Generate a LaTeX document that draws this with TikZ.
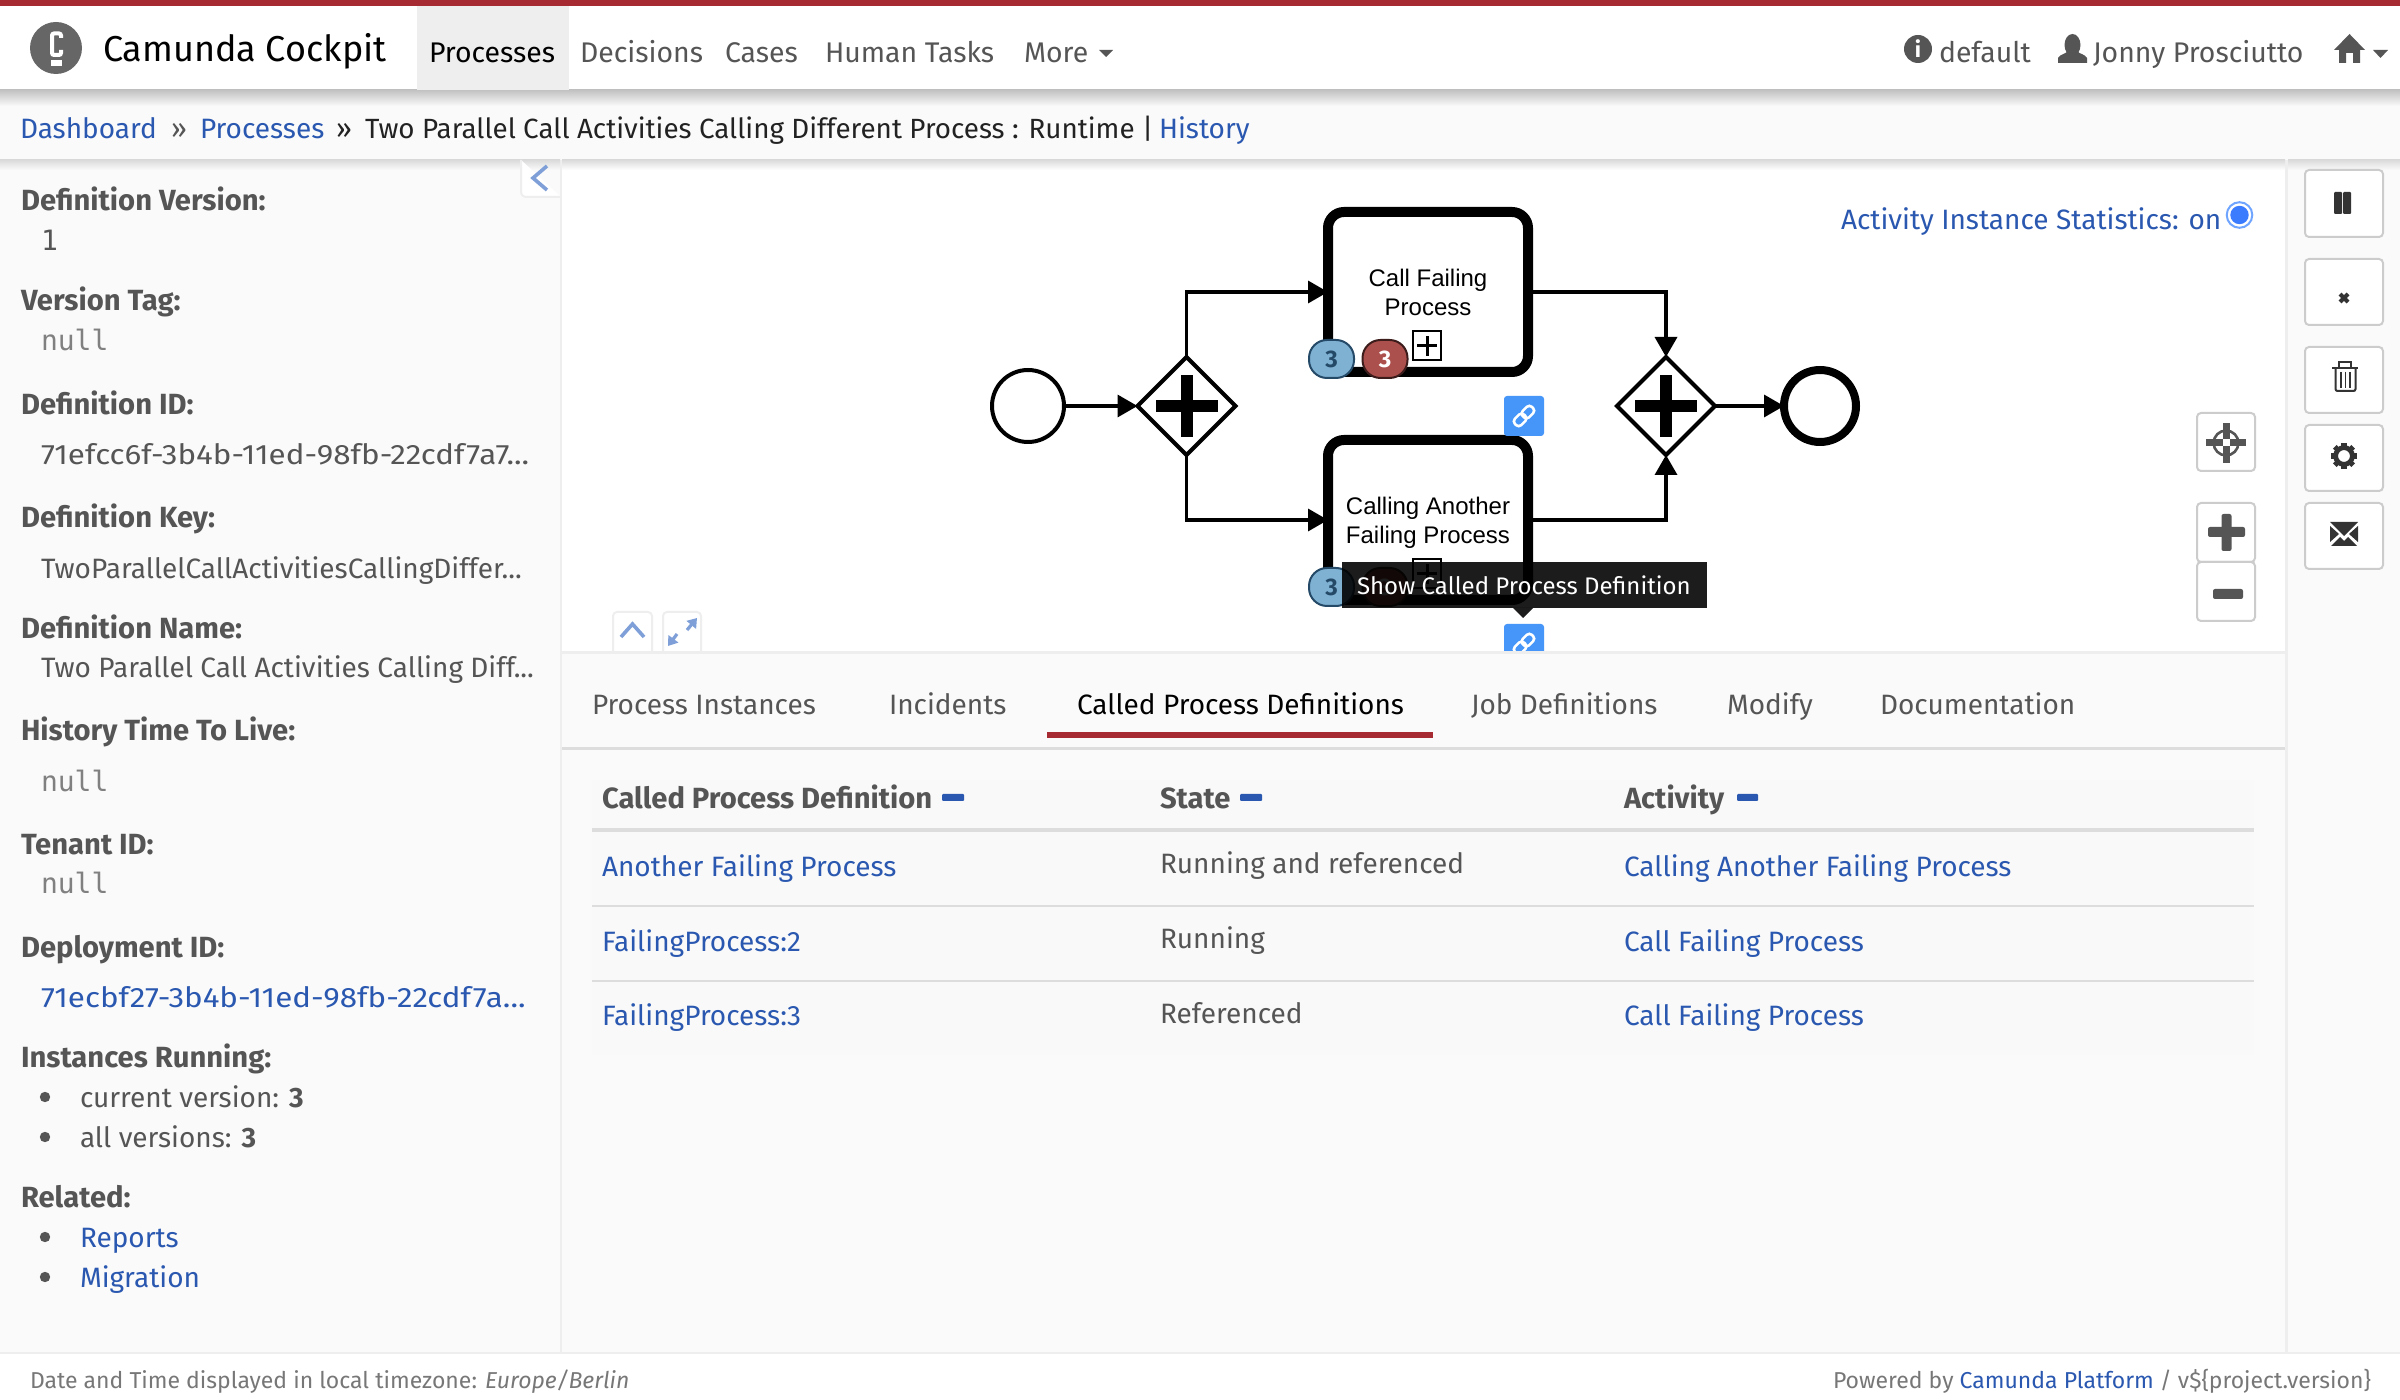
\documentclass[tikz,border=0pt]{standalone}
\usepackage{fontspec}
\setmainfont{Fira Sans}
\setmonofont{DejaVu Sans Mono}
\newfontfamily\arialf{Liberation Sans}
\newfontfamily\widef[FakeStretch=1.12]{Fira Sans}
\usetikzlibrary{arrows.meta,shapes.geometric,calc}
\definecolor{cred}{HTML}{A62A31}
\definecolor{cblue}{HTML}{2A58B0}
\definecolor{cpale}{HTML}{FAFAFA}
\definecolor{cedge}{HTML}{EEEEEE}
\definecolor{cgrey}{HTML}{555555}
\definecolor{cdark}{HTML}{222222}
\definecolor{cbtn}{HTML}{CCCCCC}
\definecolor{cicon}{HTML}{333333}
\definecolor{cchev}{HTML}{7F9FD8}
\definecolor{clink}{HTML}{4596F8}
\definecolor{cline}{HTML}{DDDDDD}
\definecolor{clogo}{HTML}{666666}
\definecolor{bdark}{HTML}{254A68}
\definecolor{bfill}{HTML}{7FB1D3}
\definecolor{rdark}{HTML}{3D1C1C}
\definecolor{rfill}{HTML}{AC504D}
\definecolor{radring}{HTML}{6FA5FF}
\definecolor{raddot}{HTML}{3B7CFF}
\definecolor{footc}{HTML}{777777}
\definecolor{tablebg}{HTML}{F9F9F9}
\newcommand{\szb}{\fontsize{14}{16}\selectfont}
\newcommand{\szl}{\fontsize{14.6}{17}\selectfont}
\newcommand{\szn}{\fontsize{14.2}{17}\selectfont}
\newcommand{\szf}{\fontsize{11.5}{14}\selectfont}
\tikzset{
 x=0.5pt,y=-0.5pt,
 txt/.style={inner sep=0pt,outer sep=0pt,anchor=base west,text=cgrey,font=\szb,yshift=-0.6pt},
 rtxt/.style={txt,anchor=base east},
 lnk/.style={txt,text=cblue},
 lab/.style={txt,font=\szl\bfseries},
 mono/.style={txt,font=\szb\ttfamily},
 nav/.style={txt,font=\szn},
 btn/.style={draw=cbtn,line width=1pt,fill=white,rounded corners=2pt},
 flow/.style={draw=black,line width=1.75pt,-{Triangle[length=10pt,width=11pt]}},
 tasknode/.style={draw=black,line width=5pt,rounded corners=8pt,fill=white,minimum width=100pt,minimum height=80pt,inner sep=0pt,outer sep=0pt},
 gatenode/.style={diamond,aspect=1,draw=black,line width=2pt,fill=white,minimum width=49pt,minimum height=49pt,inner sep=0pt,outer sep=0pt},
 badge/.style={rounded corners=9pt,minimum width=22.5pt,minimum height=19pt,inner sep=0pt,line width=1pt,font=\fontsize{12}{14}\selectfont\bfseries},
 markbox/.style={draw=black,line width=1pt,fill=white,minimum width=14pt,minimum height=14.5pt,inner sep=0pt},
 chev/.style={draw=cchev,line width=1.8pt},
 linkbtn/.style={fill=clink,rounded corners=1.5pt},
}
\begin{document}
\begin{tikzpicture}
\useasboundingbox (0,0) rectangle (2400,1400);
% page bands
\fill[white] (0,0) rectangle (2400,1400);
\fill[cpale] (0,90) rectangle (2400,1353);
\fill[white] (562,160) rectangle (2286,652);
\fill[cedge] (0,1352) rectangle (2400,1354);
\fill[cedge] (560,160) rectangle (562,1352);
\fill[cedge] (2285,160) rectangle (2288,1352);
\fill[cedge] (562,651) rectangle (2285,654);
\fill[cline] (562,747) rectangle (2285,750);
% navbar
\fill[cred] (0,0) rectangle (2400,6);
\shade[top color=black!24,bottom color=cpale] (0,90) rectangle (2400,106);
\shade[top color=black!14,bottom color=white] (562,160) rectangle (2285,170);
\shade[top color=black!14,bottom color=cpale] (0,160) rectangle (560,170);
\shade[top color=black!14,bottom color=cpale] (2288,160) rectangle (2400,170);
\fill[cedge] (417,6) rectangle (569,90);
% logo
\fill[clogo] (56,48) circle[radius=13pt];
\draw[white,line width=2pt,rounded corners=1pt] (61,38) -- (61,33.5) -- (52,33.5) -- (52,55) -- (61,55) -- (61,50);
\fill[white] (51,60) rectangle (62,66);
\node[txt,text=black,font=\fontsize{18}{21}\selectfont] (brand) at (103,60) {Camunda Cockpit};
\node[nav,text=black] (navproc) at (429,61) {Processes};
\node[nav] (navdec) at (580,61) {Decisions};
\node[nav] (navcases) at (725,61) {Cases};
\node[nav] (navhuman) at (825,61) {Human Tasks};
\node[nav] (navmore) at (1024,61) {More};
\fill[cgrey] (1099,50) -- (1113,50) -- (1106,57) -- cycle;
% right nav
\fill[cgrey] (1918,49) circle[radius=7pt];
\node[inner sep=0pt,text=white,font=\fontsize{11}{12}\selectfont\bfseries] (infoi) at (1918,49) {i};
\node[nav] (navdefault) at (1939,61) {default};
\fill[cgrey] (2072.5,45) ellipse[x radius=4pt,y radius=5.5pt];
\fill[cgrey] (2058,63) -- (2058,58) .. controls (2060,54) and (2066,54) .. (2068,51) -- (2077,51) .. controls (2079,54) and (2085,54) .. (2087,58) -- (2087,63) -- cycle;
\node[nav] (navuser) at (2093,61) {Jonny Prosciutto};
\fill[cgrey] (2334,50) -- (2349.5,34) -- (2365,50) -- (2360,50) -- (2360,63) -- (2353,63) -- (2353,53) -- (2346,53) -- (2346,63) -- (2339,63) -- (2339,50) -- cycle;
\fill[cgrey] (2373,50) -- (2388,50) -- (2380.5,58) -- cycle;
% breadcrumb
\node[lnk] (bdash) at (20,137) {Dashboard};
\node[txt] (bsep1) at (171,137) {»};
\node[lnk] (bproc) at (200,137) {Processes};
\node[txt,text=cdark] (bsep2) at (336,137) {»};
\node[txt,text=cdark,font=\fontsize{13.9}{16}\selectfont] (btitle) at (365,137) {Two Parallel Call Activities Calling Different Process : Runtime |};
\node[lnk] (bhist) at (1159,137) {History};
% collapse button
\draw[cedge,line width=1pt,fill=white] (521,160) -- (521,191) .. controls (521,195) and (523,197) .. (527,197) -- (561,197);
\draw[chev] (547,166) -- (533,178) -- (547,190);
% sidebar
\node[lab] (s1) at (21,209) {Definition Version:};
\node[mono] (s1v) at (41,249) {1};
\node[lab] (s2) at (21,309) {Version Tag:};
\node[mono,text=gray] (s2v) at (41,349) {null};
\node[lab] (s3) at (21,413) {Definition ID:};
\node[txt,font=\szb\widef] (s3v) at (41,463) {71efcc6f-3b4b-11ed-98fb-22cdf7a7...};
\node[lab] (s4) at (21,526) {Definition Key:};
\node[txt] (s4v) at (41,577) {TwoParallelCallActivitiesCallingDiffer...};
\node[lab] (s5) at (21,637) {Definition Name:};
\node[txt] (s5v) at (41,676) {Two Parallel Call Activities Calling Diff...};
\node[lab] (s6) at (21,739) {History Time To Live:};
\node[mono,text=gray] (s6v) at (41,790) {null};
\node[lab] (s7) at (21,853) {Tenant ID:};
\node[mono,text=gray] (s7v) at (41,892) {null};
\node[lab] (s8) at (21,956) {Deployment ID:};
\node[lnk,font=\szb\widef] (s8v) at (41,1006) {71ecbf27-3b4b-11ed-98fb-22cdf7a...};
\node[lab] (s9) at (21,1066) {Instances Running:};
\node[txt] (s9a) at (80,1106) {current version: \textbf{3}};
\node[txt] (s9b) at (80,1146) {all versions: \textbf{3}};
\node[lab] (s10) at (21,1206) {Related:};
\node[lnk] (s10a) at (80,1246) {Reports};
\node[lnk] (s10b) at (80,1286) {Migration};
\foreach \by in {1097,1137,1237,1277} \fill[cgrey] (45,\by) circle[radius=2.6pt];
% diagram nodes
\node[draw=black,line width=2pt,circle,minimum size=36pt,inner sep=0pt,outer sep=0pt,fill=white] (startev) at (1028,406) {};
\node[gatenode] (gwa) at (1186.5,406) {};
\node[gatenode] (gwb) at (1666,406) {};
\node[draw=black,line width=4pt,circle,minimum size=36pt,inner sep=0pt,outer sep=0pt,fill=white] (endev) at (1820,406) {};
\node[tasknode] (taska) at (1428,292) {};
\node[tasknode] (taskb) at (1428,520) {};
\node[inner sep=0pt,font=\arialf\fontsize{12}{14.5}\selectfont,align=center,text=black] (taskatxt) at (1428,292) {Call Failing\\Process};
\node[inner sep=0pt,font=\arialf\fontsize{12}{14.5}\selectfont,align=center,text=black] (taskbtxt) at (1428,523) {Calling Another\\Failing Process};
% connectors
\draw[flow] (startev) -- (gwa);
\draw[flow] (gwa.north) |- (taska.west);
\draw[flow] (gwa.south) |- (taskb.west);
\draw[flow] (taska.east) -| (gwb.north);
\draw[flow] (taskb.east) -| (gwb.south);
\draw[flow] (gwb) -- (endev);
% gateway plus marks
\foreach \gx in {1187,1666} {
 \fill[black] (\gx-31,400) rectangle (\gx+31,412);
 \fill[black] (\gx-6,375) rectangle (\gx+6,437);
}
% task markers
\foreach \my/\nm in {346/ma,574/mb} {
 \node[markbox] (\nm) at (1427,\my) {};
 \fill[black] (1417,\my-1.5) rectangle (1437,\my+1.5);
 \fill[black] (1425.5,\my-10) rectangle (1428.5,\my+10);
}
% badges
\foreach \by/\nb in {359/a,587/b} {
 \node[badge,draw=bdark,fill=bfill,text=bdark] (bb\nb) at (1331.5,\by) {3};
 \node[badge,draw=rdark,fill=rfill,text=white] (br\nb) at (1385,\by) {3};
}
% link buttons
\fill[linkbtn] (1504,396) rectangle (1544,436);
\fill[linkbtn] (1504,624) rectangle (1544,664);
\foreach \ly in {416,644} {
 \begin{scope}[shift={(1524,\ly)},rotate=45]
 \draw[white,line width=1.3pt,rounded corners=1.8pt] (-12,-4.5) rectangle (1,4.5);
 \draw[white,line width=1.3pt,rounded corners=1.8pt] (-1,-4.5) rectangle (12,4.5);
 \end{scope}
}
\fill[cpale] (1500,652) rectangle (1550,668);
\fill[cedge] (1500,651) rectangle (1550,654);
% tooltip
\fill[black,opacity=.89] (1342,562) rectangle (1707,608);
\fill[black,opacity=.89] (1513,608) -- (1533,608) -- (1523,618) -- cycle;
\node[txt,text=white,font=\fontsize{12}{15}\selectfont] (tip) at (1357,593) {Show Called Process Definition};
% stats
\node[lnk] (stats) at (1841,228) {Activity Instance Statistics: on};
\draw[radring,line width=1pt] (2239.5,215) circle[radius=6.4pt];
\fill[raddot] (2239.5,215) circle[radius=4.6pt];
% action buttons
\draw[btn] (2305,170) rectangle (2383,237);
\fill[cicon,rounded corners=.5pt] (2334,192) rectangle (2342,214);
\fill[cicon,rounded corners=.5pt] (2343,192) rectangle (2351,214);
\draw[btn] (2305,259) rectangle (2383,325);
\draw[cicon,line width=2pt] (2340,294) -- (2348,302) (2348,294) -- (2340,302);
\draw[btn] (2305,347) rectangle (2383,413);
\draw[cicon,line width=1pt] (2332,368) -- (2358,368);
\draw[cicon,line width=1pt] (2339,368) -- (2339,362.5) -- (2351,362.5) -- (2351,368);
\draw[cicon,line width=1pt,rounded corners=1pt] (2335.5,368) -- (2335.5,391) -- (2355.5,391) -- (2355.5,368);
\foreach \rx in {2341,2345.5,2350} \draw[cicon,line width=.8pt] (\rx,372) -- (\rx,388);
\draw[btn] (2305,425) rectangle (2383,491);
\foreach \ga in {0,45,...,315} \draw[cicon,line width=2.6pt] (2344,456) ++(\ga:8) -- ++(\ga:5);
\draw[cicon,line width=2.4pt] (2344,456) circle[radius=4.2pt];
\draw[btn] (2305,503) rectangle (2383,569);
\fill[cicon] (2330,522) -- (2358,522) -- (2344,536) -- cycle;
\fill[cicon] (2330,526) -- (2339,534) -- (2330,542) -- cycle;
\fill[cicon] (2358,526) -- (2349,534) -- (2358,542) -- cycle;
\fill[cicon] (2331,546) -- (2340,537) -- (2344,541) -- (2348,537) -- (2357,546) -- cycle;
% navigation buttons
\draw[btn] (2197,413) rectangle (2255,471);
\draw[cgrey,line width=1.3pt] (2226,443) circle[radius=6.2pt];
\fill[cgrey] (2222.5,423) rectangle (2229.5,463);
\fill[cgrey] (2206,439.5) rectangle (2246,446.5);
\fill[white] (2222.5,439.5) rectangle (2229.5,446.5);
\draw[btn] (2197,503) rectangle (2255,562);
\fill[cgrey,rounded corners=1pt] (2208,527) rectangle (2245,537);
\fill[cgrey,rounded corners=1pt] (2221.5,514) rectangle (2231.5,551);
\draw[btn] (2197,562) rectangle (2255,621);
\fill[cgrey,rounded corners=1pt] (2213,589) rectangle (2243,599);
% collapse toggles
\draw[cedge,line width=1pt,fill=white,rounded corners=2pt] (613,651) -- (613,612) -- (652,612) -- (652,651);
\draw[chev] (621,637) -- (632.5,624) -- (644,637);
\draw[cedge,line width=1pt,fill=white,rounded corners=2pt] (663,651) -- (663,612) -- (701,612) -- (701,651);
\draw[cchev,line width=1.6pt,-{Triangle[length=4.5pt,width=6pt]}] (687,630) -- (697,618);
\draw[cchev,line width=1.6pt,-{Triangle[length=4.5pt,width=6pt]}] (677,634) -- (668,646);
% tabs
\node[txt] (tab1) at (592,713) {Process Instances};
\node[txt] (tab2) at (889,713) {Incidents};
\node[txt,text=black] (tab3) at (1077,713) {Called Process Definitions};
\node[txt] (tab4) at (1471,713) {Job Definitions};
\node[txt] (tab5) at (1727,713) {Modify};
\node[txt] (tab6) at (1880,713) {Documentation};
\fill[cred] (1047,732) rectangle (1433,738);
% table
\fill[tablebg] (592,780) rectangle (2254,1055);
\node[lab] (h1) at (602,807) {Called Process Definition};
\fill[cblue,rounded corners=.5pt] (942,794) rectangle (964,801);
\node[lab] (h2) at (1160,807) {State};
\fill[cblue,rounded corners=.5pt] (1240,794) rectangle (1262,801);
\node[lab] (h3) at (1624,807) {Activity};
\fill[cblue,rounded corners=.5pt] (1737,794) rectangle (1758,801);
\fill[cline] (592,828) rectangle (2254,832);
\fill[cline] (592,905) rectangle (2254,907);
\fill[cline] (592,980) rectangle (2254,982);
\node[lnk] (r1a) at (602,875) {Another Failing Process};
\node[txt] (r1b) at (1160,872) {Running and referenced};
\node[lnk] (r1c) at (1624,875) {Calling Another Failing Process};
\node[lnk] (r2a) at (602,950) {FailingProcess:2};
\node[txt] (r2b) at (1160,947) {Running};
\node[lnk] (r2c) at (1624,950) {Call Failing Process};
\node[lnk] (r3a) at (602,1024) {FailingProcess:3};
\node[txt] (r3b) at (1160,1022) {Referenced};
\node[lnk] (r3c) at (1624,1024) {Call Failing Process};
% footer
\node[txt,text=footc,font=\szf] (f1) at (30,1387) {Date and Time displayed in local timezone: \textit{Europe/Berlin}};
\node[rtxt,text=footc,font=\szf] (f2) at (2371,1387) {Powered by \textcolor{cblue}{Camunda Platform} / v\$\{project.version\}};
\end{tikzpicture}
\end{document}
